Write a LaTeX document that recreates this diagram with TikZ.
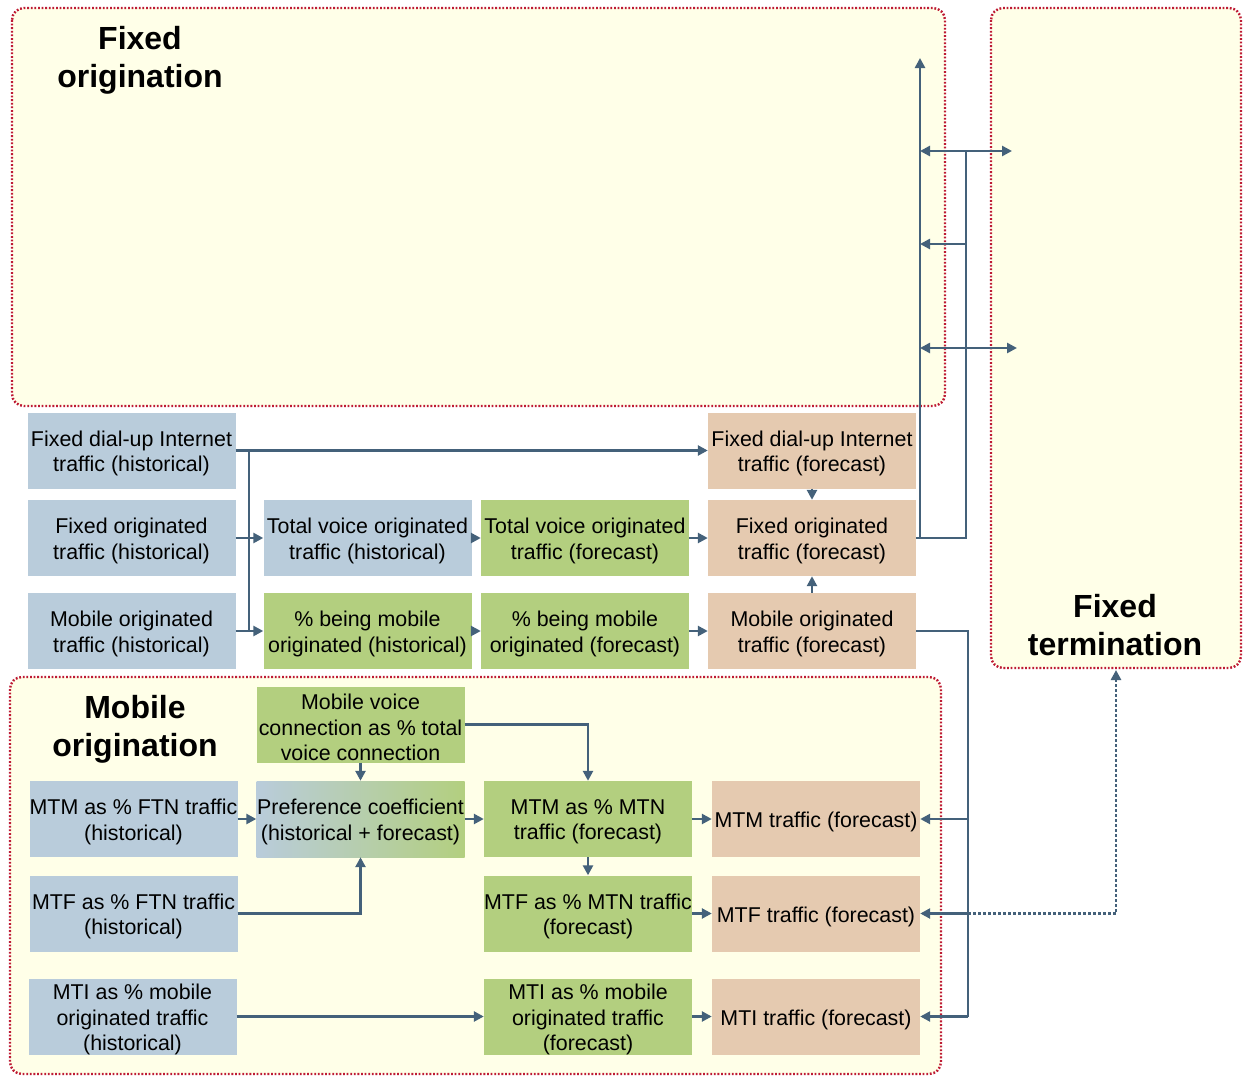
\documentclass[tikz,border=0pt]{standalone}
\usepackage{fontspec}
\setmainfont{Liberation Sans}
\usetikzlibrary{arrows.meta}

\definecolor{regionfill}{HTML}{FFFFE8}
\definecolor{regionedge}{HTML}{BE1A34}
\definecolor{histblue}{HTML}{B9CCDB}
\definecolor{paramgreen}{HTML}{B3CF7F}
\definecolor{outtan}{HTML}{E5CAB0}
\definecolor{wire}{HTML}{44617A}

\tikzset{
  region/.style={fill=regionfill, draw=regionedge, line width=2.4pt,
    dash pattern=on 1.8pt off 1.8pt, rounded corners=12pt},
  regiontitle/.style={font=\fontsize{32}{38}\selectfont\bfseries, align=center, inner sep=0pt},
  boxtext/.style={font=\fontsize{21.4}{25.5}\selectfont, align=center, inner sep=0pt, yshift=-3pt},
  box/.style={minimum width=208pt, minimum height=76pt, inner sep=0pt,
    label={[boxtext]center:#1}},
  hist/.style={box={#1}, fill=histblue},
  param/.style={box={#1}, fill=paramgreen},
  result/.style={box={#1}, fill=outtan},
  mixed/.style={box={#1}, left color=histblue, right color=paramgreen},
  wireline/.style={draw=wire, line width=2.5pt},
  conn/.style={wireline, -{Triangle[length=10pt,width=10pt]}},
  dconn/.style={wireline, {Triangle[length=10pt,width=10pt]}-{Triangle[length=10pt,width=10pt]}},
  dotconn/.style={draw=wire, line width=2.5pt, dash pattern=on 2.5pt off 2.5pt,
    -{Triangle[length=10pt,width=10pt]}},
}

\begin{document}
\begin{tikzpicture}[x=1pt, y=-1pt]
\useasboundingbox[fill=white] (0,0) rectangle (1243,1076);

% regions
\draw[region] (12,8) rectangle (945,406);
\draw[region] (991,8) rectangle (1241,668);
\draw[region] (10,677) rectangle (941,1074);

\node[regiontitle] (tFO) at (140,60) {Fixed\\origination};
\node[regiontitle] (tMO) at (135,729) {Mobile\\origination};
\node[regiontitle] (tFT) at (1115,625) {Fixed\\termination};

% fixed origination chain
\node[hist={Fixed dial-up Internet\\traffic (historical)}]   (dialH) at (131.5,450.5) {};
\node[result={Fixed dial-up Internet\\traffic (forecast)}]   (dialF) at (812,450.5) {};

\node[hist={Fixed originated\\traffic (historical)}]         (fixH) at (131.5,538) {};
\node[hist={Total voice originated\\traffic (historical)}]   (totH) at (367.5,538) {};
\node[param={Total voice originated\\traffic (forecast)}]    (totF) at (585,538) {};
\node[result={Fixed originated\\traffic (forecast)}]         (fixF) at (812,538) {};

\node[hist={Mobile originated\\traffic (historical)}]        (mobH) at (131.5,631) {};
\node[param={\% being mobile\\originated (historical)}]      (pctH) at (367.5,631) {};
\node[param={\% being mobile\\originated (forecast)}]        (pctF) at (585,631) {};
\node[result={Mobile originated\\traffic (forecast)}]        (mobF) at (812,631) {};

% mobile origination chain
\node[param={Mobile voice\\connection as \% total\\voice connection}] (mvc) at (360.5,724.5) {};
\node[hist={MTM as \% FTN traffic\\(historical)}]            (mtmH) at (133.5,819) {};
\node[mixed={Preference coefficient\\(historical + forecast)}] (pref) at (360.5,819) {};
\node[param={MTM as \% MTN\\traffic (forecast)}]             (mtmP) at (588,819) {};
\node[result={MTM traffic (forecast)}]                       (mtmT) at (816,819) {};

\node[hist={MTF as \% FTN traffic\\(historical)}]            (mtfH) at (133.5,913.5) {};
\node[param={MTF as \% MTN traffic\\(forecast)}]             (mtfP) at (588,913.5) {};
\node[result={MTF traffic (forecast)}]                       (mtfT) at (816,913.5) {};

\node[hist={MTI as \% mobile\\originated traffic\\(historical)}] (mtiH) at (132.5,1016.5) {};
\node[param={MTI as \% mobile\\originated traffic\\(forecast)}]  (mtiP) at (588,1016.5) {};
\node[result={MTI traffic (forecast)}]                           (mtiT) at (816,1016.5) {};

% bus joining the historical inputs
\coordinate (busTop) at (249,450.5);
\coordinate (busBot) at (249,631);
\draw[wireline] (busTop) -- (busBot);
\draw[conn] (dialH.east) -- (dialF.west);
\draw[conn] (fixH.east) -- (totH.west);
\draw[conn] (mobH.east) -- (pctH.west);

\draw[conn] (totH) -- (totF);
\draw[conn] (pctH) -- (pctF);
\draw[conn] (totF) -- (fixF);
\draw[conn] (pctF) -- (mobF);
\draw[conn] (dialF) -- (fixF);
\draw[conn] (mobF) -- (fixF);

% fixed originated traffic feeding upwards
\coordinate (upTip) at (920,58);
\coordinate (rbus)  at (966,151);
\coordinate (aL1) at (920,151);  \coordinate (aR1) at (1012,151);
\coordinate (aS2) at (966,244);  \coordinate (aL2) at (920,244);
\coordinate (aL3) at (920,348);  \coordinate (aR3) at (1017,348);
\draw[conn] (fixF.east) -| (upTip);
\draw[wireline] (fixF.east) -| (rbus);
\draw[dconn] (aL1) -- (aR1);
\draw[conn] (aS2) -- (aL2);
\draw[dconn] (aL3) -- (aR3);

% mobile originated traffic feeding the MTx traffic boxes
\coordinate (mbusBot) at (968,1016.5);
\coordinate (termIn) at (1116,670);
\draw[wireline] (mobF.east) -| (mbusBot);
\draw[conn] (mbusBot) -- (mtiT.east);
\draw[conn] (mtmT.east -| mbusBot) -- (mtmT.east);
\draw[conn] (mtfT.east -| mbusBot) -- (mtfT.east);
\draw[dotconn] (mtfT.east -| mbusBot) -| (termIn);

% inside mobile origination
\draw[conn] (mvc) -- (pref);
\draw[conn] (mvc.east) -| (mtmP.north);
\draw[conn] (mtmH) -- (pref);
\draw[conn] (mtfH.east) -| (pref.south);
\draw[conn] (pref) -- (mtmP);
\draw[conn] (mtmP) -- (mtfP);
\draw[conn] (mtmP) -- (mtmT);
\draw[conn] (mtfP) -- (mtfT);
\draw[conn] (mtiH) -- (mtiP);
\draw[conn] (mtiP) -- (mtiT);
\end{tikzpicture}
\end{document}
